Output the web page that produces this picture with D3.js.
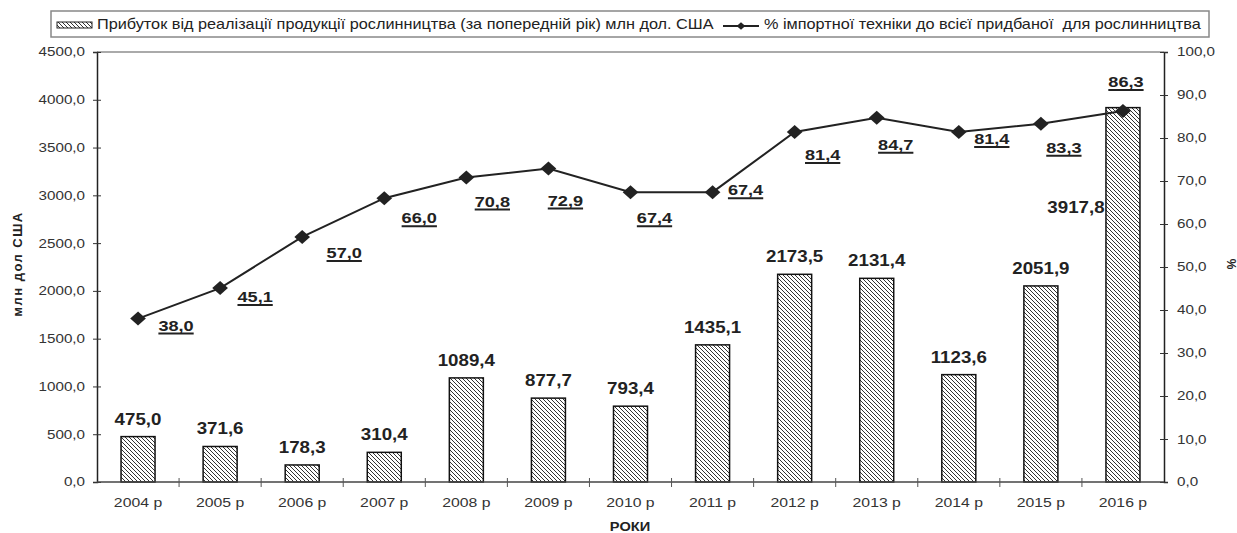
<!DOCTYPE html>
<html>
<head>
<meta charset="utf-8">
<script src="https://cdn.jsdelivr.net/npm/d3@7"></script>
<style>
  body { margin: 0; background: #fff; }
  text { font-family: "Liberation Sans", Arial, sans-serif; fill: #222; white-space: pre; }
</style>
</head>
<body>
<svg id="chart" width="1237" height="533"></svg>
<script>
// data
const years = ["2004 р", "2005 р", "2006 р", "2007 р", "2008 р", "2009 р", "2010 р",
  "2011 р", "2012 р", "2013 р", "2014 р", "2015 р", "2016 р"];
const profit = [475.0, 371.6, 178.3, 310.4, 1089.4, 877.7, 793.4, 1435.1, 2173.5, 2131.4, 1123.6, 2051.9, 3917.8];
const importShare = [38.0, 45.1, 57.0, 66.0, 70.8, 72.9, 67.4, 67.4, 81.4, 84.7, 81.4, 83.3, 86.3];
const leftTicks = [0, 500, 1000, 1500, 2000, 2500, 3000, 3500, 4000, 4500];
const rightTicks = [0, 10, 20, 30, 40, 50, 60, 70, 80, 90, 100];
const profitName = "Прибуток від реалізації продукції рослинництва (за попередній рік) млн дол. США";
const shareName = "% імпортної техніки до всієї придбаної  для рослинництва";

// where the labels were nudged to in the original (dx, dy from the mark)
const shareLabelShift = [[38, 12], [35, 14], [42, 21], [35, 25], [26, 29], [17, 37], [24, 31],
  [33, 3], [28, 28], [19, 32], [33, 12], [23, 29], [3, -24]];
const barLabelShift = profit.map((d, i) => i === profit.length - 1 ? [-47, 105] : [0, -12]);

const SX = 1.17; // the source picture is stretched sideways
const fmt = d => d.toFixed(1).replace(".", ",");

const svg = d3.select("#chart");
const m = { top: 52, right: 73, bottom: 51, left: 97 };
const W = 1237, H = 533;

const x = d3.scaleBand().domain(years).range([m.left, W - m.right]).padding(0);
const yL = d3.scaleLinear().domain([0, 4500]).range([H - m.bottom, m.top]);
const yR = d3.scaleLinear().domain([0, 100]).range([H - m.bottom, m.top]);
const barW = 34;

// hatch
const defs = svg.append("defs");
defs.append("pattern")
  .attr("id", "hatch")
  .attr("patternUnits", "userSpaceOnUse")
  .attr("width", 4).attr("height", 4)
  .append("path")
  .attr("d", "M-1,-1L5,5M-1,3L1,5M3,-1L5,1")
  .attr("stroke", "#333").attr("stroke-width", 1);

// legend box goes under everything else
const lg = svg.append("g");
lg.append("rect")
  .attr("x", 51).attr("y", 11).attr("width", 1158).attr("height", 26)
  .attr("fill", "#fff").attr("stroke", "#888").attr("stroke-width", 1.5);

const txt = svg.append("g").attr("transform", `scale(${SX},1)`);
function label(X, Y, s) {
  return txt.append("text").attr("x", X / SX).attr("y", Y).text(s);
}

// top frame line
svg.append("line")
  .attr("x1", m.left).attr("x2", W - m.right)
  .attr("y1", m.top).attr("y2", m.top)
  .attr("stroke", "#aaa").attr("stroke-width", 2);

// bars
svg.append("g").selectAll("rect")
  .data(profit)
  .join("rect")
  .attr("x", (d, i) => x(years[i]) + x.bandwidth() / 2 - barW / 2)
  .attr("y", d => yL(d))
  .attr("width", barW)
  .attr("height", d => yL(0) - yL(d))
  .attr("fill", "url(#hatch)")
  .attr("stroke", "#111").attr("stroke-width", 1.5);

// left axis
const gL = svg.append("g").attr("transform", `translate(${m.left},0)`)
  .call(d3.axisLeft(yL).tickValues(leftTicks).tickSize(4).tickFormat(""));
gL.select(".domain").attr("stroke", "#222").attr("stroke-width", 1.5);
gL.selectAll(".tick line").attr("x1", 4).attr("stroke", "#333");
leftTicks.forEach(t => label(m.left - 12, yL(t) + 4.5, fmt(t))
  .attr("text-anchor", "end").style("font-size", "13px").style("fill", "#333"));

// right axis
const gR = svg.append("g").attr("transform", `translate(${W - m.right},0)`)
  .call(d3.axisRight(yR).tickValues(rightTicks).tickSize(4).tickFormat(""));
gR.select(".domain").attr("stroke", "#222").attr("stroke-width", 1.5);
gR.selectAll(".tick line").attr("x1", -4).attr("stroke", "#333");
rightTicks.forEach(t => label(W - m.right + 13, yR(t) + 4.5, fmt(t))
  .style("font-size", "13px").style("fill", "#333"));

// bottom axis, ticks between categories
const gB = svg.append("g");
gB.append("line")
  .attr("x1", m.left).attr("x2", W - m.right)
  .attr("y1", yL(0)).attr("y2", yL(0))
  .attr("stroke", "#444").attr("stroke-width", 1.5);
gB.selectAll(".sep")
  .data(years.slice(1))
  .join("line")
  .attr("x1", d => x(d)).attr("x2", d => x(d))
  .attr("y1", yL(0) - 4).attr("y2", yL(0) + 5)
  .attr("stroke", "#555");
years.forEach(d => label(x(d) + x.bandwidth() / 2, 507, d)
  .attr("text-anchor", "middle").style("font-size", "13.5px").style("fill", "#333"));

// axis titles
label(630, 531, "РОКИ").attr("text-anchor", "middle")
  .style("font-size", "12.5px").style("font-weight", "bold");
svg.append("text")
  .attr("transform", `translate(22,264) rotate(-90)`)
  .attr("text-anchor", "middle")
  .style("font-size", "13px").style("font-weight", "bold")
  .style("letter-spacing", "1.5px")
  .text("млн дол США");
svg.append("text")
  .attr("transform", `translate(1227,264) rotate(90)`)
  .attr("text-anchor", "middle")
  .style("font-size", "12px").style("font-weight", "bold")
  .text("%");

// bar value labels
profit.forEach((d, i) => {
  label(x(years[i]) + x.bandwidth() / 2 + barLabelShift[i][0], yL(d) + barLabelShift[i][1], fmt(d))
    .attr("text-anchor", "middle")
    .style("font-size", "16px").style("font-weight", "bold");
});

// share line
const cx = i => x(years[i]) + x.bandwidth() / 2;
svg.append("path")
  .datum(importShare)
  .attr("d", d3.line().x((d, i) => cx(i)).y(d => yR(d)))
  .attr("fill", "none").attr("stroke", "#222").attr("stroke-width", 2);

const diamond = d3.symbol(d3.symbolSquare, 98);
svg.append("g").selectAll("path")
  .data(importShare)
  .join("path")
  .attr("d", diamond)
  .attr("transform", (d, i) => `translate(${cx(i)},${yR(d)}) scale(1.12,1) rotate(45)`)
  .attr("fill", "#222");

// share labels with a heavy underline
importShare.forEach((d, i) => {
  const X = cx(i) + shareLabelShift[i][0], Y = yR(d) + shareLabelShift[i][1];
  const t = label(X, Y, fmt(d))
    .attr("text-anchor", "middle")
    .style("font-size", "15.5px").style("font-weight", "bold");
  const w = t.node().getComputedTextLength() * SX;
  svg.append("line")
    .attr("x1", X - w / 2).attr("x2", X + w / 2)
    .attr("y1", Y + 3).attr("y2", Y + 3)
    .attr("stroke", "#222").attr("stroke-width", 2);
});

// legend entries
lg.append("rect")
  .attr("x", 57).attr("y", 22).attr("width", 35).attr("height", 6)
  .attr("fill", "url(#hatch)").attr("stroke", "#222").attr("stroke-width", 1);
label(97, 29, profitName).style("font-size", "13.9px");
lg.append("line")
  .attr("x1", 723).attr("x2", 759).attr("y1", 26).attr("y2", 26)
  .attr("stroke", "#222").attr("stroke-width", 2);
lg.append("path")
  .attr("d", d3.symbol(d3.symbolSquare, 30))
  .attr("transform", "translate(741,26) scale(1.12,1) rotate(45)")
  .attr("fill", "#222");
label(764, 29, shareName).style("font-size", "13.9px");
</script>
</body>
</html>
